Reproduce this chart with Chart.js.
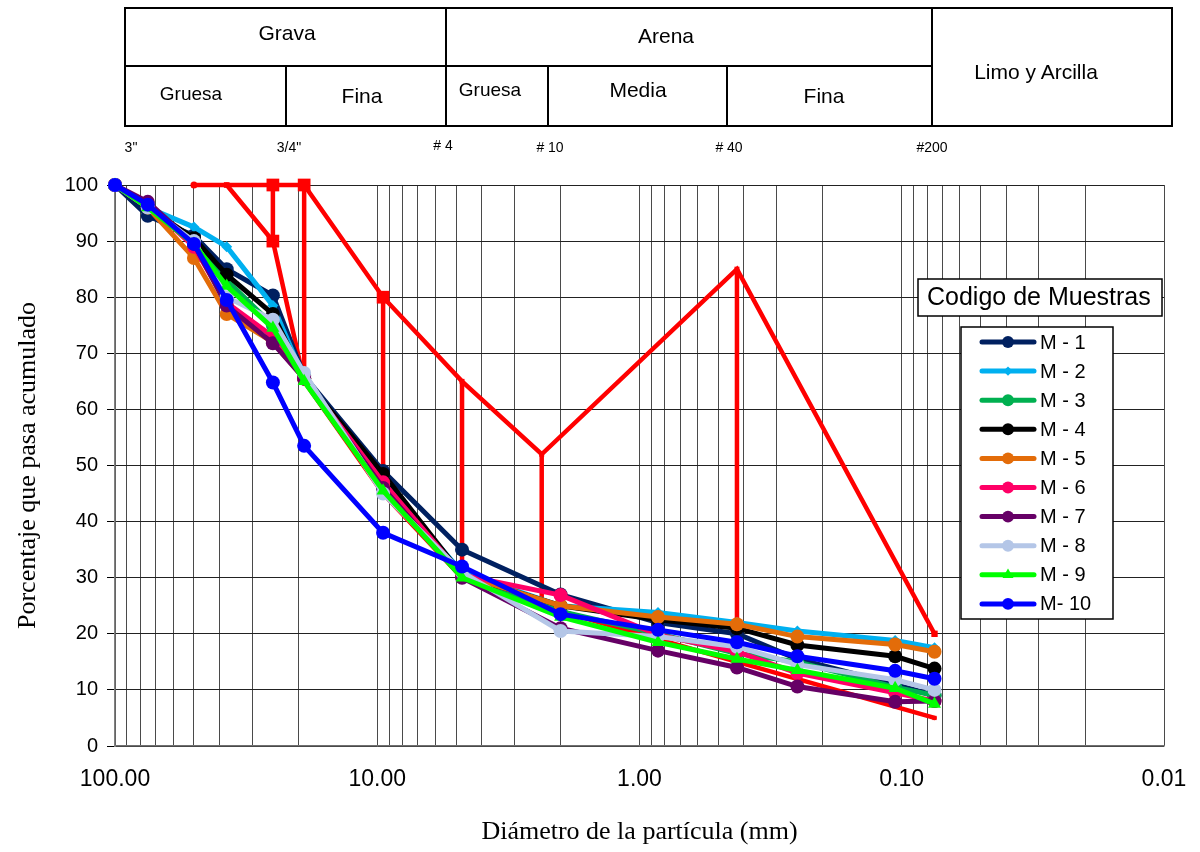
<!DOCTYPE html>
<html>
<head>
<meta charset="utf-8">
<script src="https://cdn.jsdelivr.net/npm/chart.js@4/dist/chart.umd.min.js"></script>
<style>
html,body{margin:0;padding:0;background:#fff;}
#wrap{position:relative;width:1200px;height:852px;overflow:hidden;}
#c{position:absolute;left:0;top:0;}
.ln{position:absolute;background:#000;}
.tx{position:absolute;transform:translate(-50%,-50%);white-space:nowrap;font-family:Arial,"Liberation Sans",sans-serif;color:#000;}
</style>
</head>
<body>
<div id="wrap">
<canvas id="c" width="1200" height="852"></canvas>
<!-- classification table -->
<div class="ln" style="left:125px;top:7px;width:1048px;height:2px"></div>
<div class="ln" style="left:125px;top:125px;width:1048px;height:2px"></div>
<div class="ln" style="left:124px;top:7px;width:2px;height:120px"></div>
<div class="ln" style="left:1171px;top:7px;width:2px;height:120px"></div>
<div class="ln" style="left:125px;top:65px;width:807px;height:2px"></div>
<div class="ln" style="left:445px;top:7px;width:2px;height:120px"></div>
<div class="ln" style="left:931px;top:7px;width:2px;height:120px"></div>
<div class="ln" style="left:285px;top:65px;width:2px;height:62px"></div>
<div class="ln" style="left:547px;top:65px;width:2px;height:62px"></div>
<div class="ln" style="left:726px;top:65px;width:2px;height:62px"></div>
<div class="tx" style="left:287px;top:33px;font-size:21px">Grava</div>
<div class="tx" style="left:666px;top:36px;font-size:21px">Arena</div>
<div class="tx" style="left:1036px;top:72px;font-size:21px">Limo y Arcilla</div>
<div class="tx" style="left:191px;top:94px;font-size:19px">Gruesa</div>
<div class="tx" style="left:362px;top:96px;font-size:21px">Fina</div>
<div class="tx" style="left:490px;top:90px;font-size:19px">Gruesa</div>
<div class="tx" style="left:638px;top:90px;font-size:21px">Media</div>
<div class="tx" style="left:824px;top:96px;font-size:21px">Fina</div>
<div class="tx" style="left:131px;top:147px;font-size:14px">3"</div>
<div class="tx" style="left:289px;top:147px;font-size:14px">3/4"</div>
<div class="tx" style="left:443px;top:145px;font-size:14px"># 4</div>
<div class="tx" style="left:550px;top:147px;font-size:14px"># 10</div>
<div class="tx" style="left:729px;top:147px;font-size:14px"># 40</div>
<div class="tx" style="left:932px;top:147px;font-size:14px">#200</div>
</div>
<script>
// ---------------- DATA ----------------
const sieveSizes = [100, 75, 50, 37.5, 25, 19, 9.5, 4.75, 2.0, 0.85, 0.425, 0.25, 0.106, 0.075];
const m1  = [100, 94.5, 91.0, 85.0, 80.3, 66.0, 49.0, 35.0, 27.0, 22.0, 20.0, 15.5, 11.0,  9.0];
const m2  = [100, 96.0, 92.5, 89.0, 78.5, 65.5, 47.0, 31.0, 25.0, 23.8, 22.0, 20.5, 18.8, 17.5];
const m3  = [100, 96.0, 90.0, 83.0, 75.0, 65.5, 46.0, 30.5, 24.0, 20.0, 16.5, 15.0, 10.5,  9.0];
const m4  = [100, 96.0, 90.5, 84.0, 77.0, 65.5, 48.5, 30.5, 25.0, 22.5, 21.0, 18.0, 16.0, 13.8];
const m5  = [100, 96.0, 87.0, 77.0, 72.0, 65.5, 46.5, 30.5, 25.0, 23.0, 21.7, 19.5, 18.1, 16.8];
const m6  = [100, 96.5, 89.0, 79.0, 73.0, 65.5, 47.0, 30.5, 26.9, 19.8, 16.8, 13.0,  9.5,  8.0];
const m7  = [100, 97.0, 89.5, 78.5, 71.8, 65.5, 46.0, 30.0, 21.0, 17.0, 14.0, 10.6,  7.9,  8.0];
const m8  = [100, 96.0, 90.0, 80.0, 76.0, 66.5, 45.0, 31.0, 20.5, 19.5, 17.7, 14.5, 11.8, 10.0];
const m9  = [100, 96.0, 89.5, 82.0, 74.5, 65.0, 45.5, 30.0, 23.0, 18.5, 15.5, 13.5, 10.3,  7.5];
const m10 = [100, 96.5, 89.5, 79.5, 64.8, 53.5, 38.0, 32.0, 23.5, 20.7, 18.5, 16.0, 13.4, 12.0];
const sampleLabels = ['M - 1','M - 2','M - 3','M - 4','M - 5','M - 6','M - 7','M - 8','M - 9','M- 10'];
const sampleSeries = [m1, m2, m3, m4, m5, m6, m7, m8, m9, m10];

// specification limits (red)
const upperSizes  = [50, 37.5, 25, 19, 9.5, 4.75, 2.36, 0.425, 0.075];
const upperValues = [100, 100, 100, 100, 80, 65, 52, 85, 20];
const lowerSizes  = [37.5, 25, 19, 9.5, 4.75, 2.36, 0.425, 0.075];
const lowerValues = [100, 90, 65, 45, 30, 25, 15, 5];
const barSizes    = [25, 19, 9.5, 4.75, 2.36, 0.425];

// axis ticks
const decadeValues = [100, 10, 1, 0.1, 0.01];
const decadeLabels = ['100.00', '10.00', '1.00', '0.10', '0.01'];
const yTickValues  = [0, 10, 20, 30, 40, 50, 60, 70, 80, 90, 100];

// ---------------- STYLES ----------------
const sampleColors = ['#002060','#00B0F0','#00B050','#000000','#E36C09','#FF0066','#660066','#B4C6E7','#00FF00','#0000FF'];
const sampleStyles = ['circle','rectRot','circle','circle','circle','circle','circle','circle','triangle','circle'];
const sampleRadius = [7, 5.5, 7, 7, 7, 7, 7, 7, 7.5, 7];
const RED = '#FF0000';

const datasets = [];
sampleSeries.forEach((arr, i) => {
  datasets.push({
    label: sampleLabels[i],
    data: sieveSizes.map((s, k) => ({x: s, y: arr[k]})),
    showLine: true,
    borderColor: sampleColors[i],
    backgroundColor: sampleColors[i],
    borderWidth: 5,
    pointStyle: sampleStyles[i],
    pointRadius: sampleRadius[i],
    pointBorderWidth: 0,
    pointHoverRadius: sampleRadius[i],
    tension: 0,
    clip: false,
    order: 20 - i
  });
});
const upperRadius = [3.5, 4, 9, 9, 9, 3.5, 3.5, 3.5, 4.5];
const upperStyle  = ['circle','rect','rect','rect','rect','rect','rect','rect','rect'];
datasets.push({
  label: 'upper', data: upperSizes.map((s, k) => ({x: s, y: upperValues[k]})),
  showLine: true, borderColor: RED, backgroundColor: RED, borderWidth: 4.5,
  pointStyle: upperStyle, pointRadius: upperRadius, pointBorderWidth: 0, tension: 0, clip: false, order: 100
});
const lowerRadius = [0, 9, 0, 0, 0, 0, 0, 3];
datasets.push({
  label: 'lower', data: lowerSizes.map((s, k) => ({x: s, y: lowerValues[k]})),
  showLine: true, borderColor: RED, backgroundColor: RED, borderWidth: 4.5,
  pointStyle: 'rect', pointRadius: lowerRadius, pointBorderWidth: 0, tension: 0, clip: false, order: 101,
  borderCapStyle: 'round'
});
const barData = [];
barSizes.forEach(s => {
  barData.push({x: s, y: upperValues[upperSizes.indexOf(s)]});
  barData.push({x: s, y: lowerValues[lowerSizes.indexOf(s)]});
  barData.push({x: s, y: null});
});
datasets.push({
  label: 'bars', data: barData, showLine: true, spanGaps: false,
  borderColor: RED, backgroundColor: RED, borderWidth: 4.5, pointRadius: 0, clip: false, order: 102
});

const gridValues = [];
[-2, -1, 0, 1].forEach(e => { for (let m = 1; m <= 9; m++) gridValues.push(m * Math.pow(10, e)); });
gridValues.push(100);

const SANS = 'Arial, "Liberation Sans", sans-serif';
const SERIF = '"Times New Roman", "Liberation Serif", serif';

const legendPlugin = {
  id: 'muestrasLegend',
  afterDraw(chart) {
    const ctx = chart.ctx;
    const H = Chart.helpers;
    ctx.save();
    ctx.fillStyle = '#fff';
    ctx.fillRect(918, 279, 244, 37);
    ctx.lineWidth = 1.5; ctx.strokeStyle = '#000';
    ctx.strokeRect(918, 279, 244, 37);
    ctx.fillStyle = '#000'; ctx.font = '25px ' + SANS;
    ctx.textBaseline = 'middle'; ctx.textAlign = 'left';
    ctx.fillText('Codigo de Muestras', 927, 298);
    ctx.fillStyle = '#fff';
    ctx.fillRect(961, 327, 152, 292);
    ctx.strokeRect(961, 327, 152, 292);
    ctx.font = '20px ' + SANS;
    sampleLabels.forEach((lab, i) => {
      const y = 342 + i * 29.1;
      ctx.strokeStyle = sampleColors[i]; ctx.lineWidth = 5; ctx.lineCap = 'round';
      ctx.beginPath(); ctx.moveTo(982, y); ctx.lineTo(1034, y); ctx.stroke();
      ctx.fillStyle = sampleColors[i];
      H.drawPoint(ctx, {pointStyle: sampleStyles[i], radius: sampleRadius[i] * 0.85, borderWidth: 0, rotation: 0}, 1008, y);
      ctx.fillStyle = '#000';
      ctx.fillText(lab, 1040, y + 1);
    });
    ctx.restore();
  }
};
const bgPlugin = {
  id: 'bg',
  beforeDraw(chart) { const c = chart.ctx; c.save(); c.fillStyle = '#fff'; c.fillRect(0, 0, chart.width, chart.height); c.restore(); }
};

new Chart(document.getElementById('c'), {
  type: 'scatter',
  data: { datasets },
  plugins: [bgPlugin, legendPlugin],
  options: {
    responsive: false, animation: false,
    layout: { padding: { left: 0, top: 185, right: 36, bottom: 0 } },
    plugins: { legend: { display: false }, tooltip: { enabled: false } },
    scales: {
      x: {
        type: 'logarithmic', reverse: true, min: 0.01, max: 100,
        afterBuildTicks: s => { s.ticks = gridValues.map(v => ({value: v})); },
        afterFit: s => { s.height = 106; },
        ticks: {
          autoSkip: false, maxRotation: 0, padding: 20, color: '#000',
          font: { family: SANS, size: 23 },
          callback: v => { const k = decadeValues.findIndex(d => Math.abs(v - d) / d < 1e-6); return k >= 0 ? decadeLabels[k] : ''; }
        },
        grid: { color: '#4a4a4a', lineWidth: 1, drawTicks: false },
        border: { color: '#707070', width: 1.5 },
        title: { display: true, text: 'Diámetro de la partícula (mm)', color: '#000', font: { family: SERIF, size: 26 }, padding: { top: 0, bottom: 4 } }
      },
      y: {
        min: 0, max: 100,
        afterBuildTicks: s => { s.ticks = yTickValues.map(v => ({value: v})); },
        afterFit: s => { s.width = 115; },
        ticks: { padding: 9, color: '#000', font: { family: SANS, size: 20 } },
        grid: { color: '#222', lineWidth: 1, tickLength: 8, tickColor: '#000' },
        border: { color: '#808080', width: 1.5 },
        title: { display: true, text: 'Porcentaje que pasa acumulado', color: '#000', font: { family: SERIF, size: 26 }, padding: { top: 13, bottom: 0 } }
      }
    }
  }
});
</script>
</body>
</html>
